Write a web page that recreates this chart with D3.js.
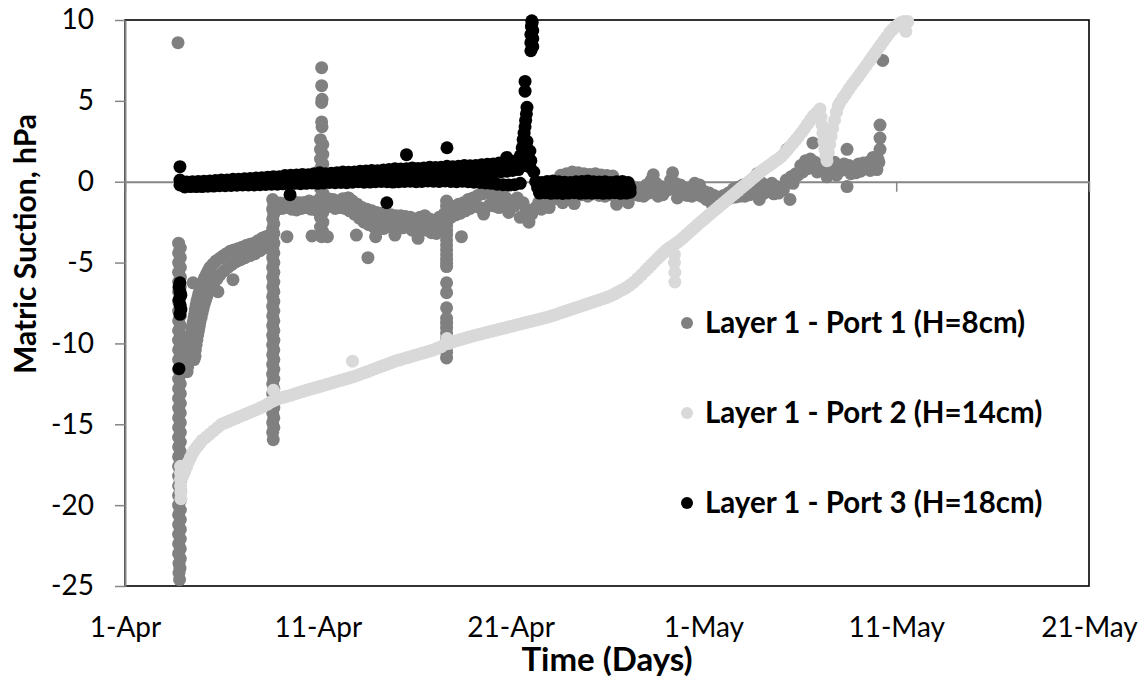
<!DOCTYPE html>
<html>
<head>
<meta charset="utf-8">
<script src="https://cdn.jsdelivr.net/npm/d3@7"></script>
<style>
  html, body { margin: 0; padding: 0; background: #fff; }
  svg { display: block; font-family: "Lato", sans-serif; }
</style>
</head>
<body>
<svg id="chart" width="1146" height="680"></svg>
<script>
// Time axis: days after 1-Apr
const xTickValues = [0, 10, 20, 30, 40, 50];
const xTickLabels = ["1-Apr", "11-Apr", "21-Apr", "1-May", "11-May", "21-May"];
const yTickValues = [10, 5, 0, -5, -10, -15, -20, -25];
const yTickLabels = ["10", "5", "0", "-5", "-10", "-15", "-20", "-25"];

const seriesNames = ["Layer 1 - Port 1 (H=8cm)", "Layer 1 - Port 2 (H=14cm)", "Layer 1 - Port 3 (H=18cm)"];
const seriesColors = ["#808080", "#d9d9d9", "#000000"];

// Logged readings as [day, matric suction hPa]
const port1 = [
  [2.75,8.6],
  [2.78,-3.8],[2.87,-4.1],[2.78,-4.4],[2.87,-4.7],[2.78,-5.0],[2.87,-5.3],[2.78,-5.6],[2.87,-5.9],[2.78,-6.2],[2.87,-6.5],
  [2.78,-6.8],[2.87,-7.1],[2.78,-7.4],[2.87,-7.7],[2.78,-8.0],[2.87,-8.3],[2.78,-8.6],[2.87,-8.9],[2.78,-9.2],[2.87,-9.5],
  [2.78,-9.8],[2.87,-10.1],[2.78,-10.4],[2.87,-10.7],[2.78,-11.0],[2.87,-11.3],[2.78,-11.6],[2.87,-11.9],[2.78,-12.2],[2.87,-12.5],
  [2.78,-12.8],[2.87,-13.1],[2.78,-13.4],[2.87,-13.7],[2.78,-14.0],[2.87,-14.3],[2.78,-14.6],[2.87,-14.9],[2.78,-15.2],[2.87,-15.5],
  [2.78,-15.8],[2.87,-16.1],[2.78,-16.4],[2.87,-16.7],[2.78,-17.0],[2.87,-17.3],[2.78,-17.6],[2.87,-17.9],[2.78,-18.2],[2.87,-18.5],
  [2.78,-18.8],[2.87,-19.1],[2.78,-19.4],[2.87,-19.7],[2.78,-20.0],[2.87,-20.3],[2.78,-20.6],[2.87,-20.9],[2.78,-21.2],[2.87,-21.5],
  [2.78,-21.8],[2.87,-22.1],[2.78,-22.4],[2.87,-22.7],[2.78,-23.0],[2.87,-23.3],[2.8,-23.6],[2.85,-23.9],[2.8,-24.2],[2.83,-24.6],
  [3.22,-11.75],[3.25,-11.45],[3.27,-11.1],[3.3,-10.8],[3.32,-10.5],[3.35,-10.25],[3.37,-10.0],[3.4,-9.75],[3.42,-9.5],[3.46,-9.22],
  [3.5,-8.95],[3.54,-8.68],[3.58,-8.4],[3.62,-8.15],[3.65,-7.9],[3.69,-7.65],[3.73,-7.4],[3.78,-7.17],[3.83,-6.95],[3.88,-6.75],
  [3.94,-6.55],[4.0,-6.35],[4.07,-6.13],[4.15,-5.9],[4.23,-5.7],[4.32,-5.5],[4.41,-5.3],[4.56,-5.1],[4.72,-4.9],[4.9,-4.75],
  [5.08,-4.6],[5.26,-4.45],[5.45,-4.3],[5.65,-4.22],[5.86,-4.15],[6.07,-4.05],[6.28,-3.95],[6.48,-3.87],[6.69,-3.8],[6.9,-3.65],
  [7.11,-3.5],[7.27,-3.42],[7.42,-3.35],[7.58,-3.3],
  [3.58,-11.0],[3.61,-10.7],[3.65,-10.4],[3.69,-10.08],[3.73,-9.77],[3.77,-9.48],[3.81,-9.2],[3.85,-8.93],[3.89,-8.66],[3.95,-8.38],
  [4.0,-8.1],[4.05,-7.85],[4.1,-7.6],[4.15,-7.4],[4.2,-7.2],[4.25,-7.03],[4.3,-6.86],[4.46,-6.55],[4.62,-6.25],[4.78,-6.0],
  [4.93,-5.75],[5.13,-5.52],[5.34,-5.3],[5.55,-5.12],[5.76,-4.95],[5.99,-4.82],[6.22,-4.7],[6.48,-4.57],[6.74,-4.45],[7.0,-4.27],
  [7.26,-4.1],[7.45,-3.95],
  [3.53,-6.25],[3.63,-10.8],[4.82,-6.8],[5.6,-6.06],
  [7.66,-1.1],[7.72,-1.4],[7.66,-1.7],[7.72,-2.0],[7.66,-2.3],[7.72,-2.6],[7.66,-2.9],[7.72,-3.2],[7.66,-3.5],[7.72,-3.8],
  [7.66,-4.1],[7.72,-4.4],[7.66,-4.7],[7.72,-5.0],[7.66,-5.3],[7.72,-5.6],[7.66,-5.9],[7.72,-6.2],[7.66,-6.5],[7.72,-6.8],
  [7.66,-7.1],[7.72,-7.4],[7.66,-7.7],[7.72,-8.0],[7.66,-8.3],[7.72,-8.6],[7.66,-8.9],[7.72,-9.2],[7.66,-9.5],[7.72,-9.8],
  [7.66,-10.1],[7.72,-10.4],[7.66,-10.7],[7.72,-11.0],[7.66,-11.3],[7.72,-11.6],[7.66,-11.9],[7.72,-12.2],[7.66,-12.5],[7.72,-12.8],
  [7.66,-13.1],[7.72,-13.4],[7.66,-13.7],[7.72,-14.0],[7.66,-14.3],[7.72,-14.6],[7.66,-14.9],[7.72,-15.2],[7.66,-15.5],[7.69,-15.95],
  [7.8,-1.3],[8.05,-1.32],[8.3,-1.35],[8.55,-1.3],[8.8,-1.25],[9.05,-1.3],[9.3,-1.28],[9.55,-1.2],[9.8,-1.25],[10.05,-1.3],
  [10.3,-1.1],[10.55,-1.05],[10.8,-1.1],[11.05,-1.2],[11.3,-1.05],[11.55,-1.0],[11.8,-1.2],[12.05,-1.4],[12.3,-1.6],[12.55,-1.7],
  [12.8,-1.8],[13.05,-1.9],[13.3,-1.95],[13.55,-2.0],[13.8,-2.05],[14.05,-2.1],[14.3,-2.1],[14.55,-2.15],[14.8,-2.2],[15.05,-2.3],
  [15.3,-2.2],[15.55,-2.1],[15.8,-2.3],[16.05,-2.4],[16.3,-2.2],[16.55,-2.0],[16.8,-1.8],[17.05,-1.55],[17.3,-1.4],[17.55,-1.3],
  [17.8,-1.1],[18.05,-1.0],[18.3,-0.85],[18.55,-0.75],[18.8,-0.7],[19.05,-0.85],[19.3,-0.75],[19.55,-0.6],
  [7.9,-1.7],[8.15,-1.65],[8.4,-1.6],[8.65,-1.7],[8.9,-1.75],[9.15,-1.65],[9.4,-1.6],[9.65,-1.7],[9.9,-1.75],[10.15,-1.8],
  [10.4,-1.6],[10.65,-1.5],[10.9,-1.65],[11.15,-1.6],[11.4,-1.65],[11.65,-1.8],[11.9,-2.0],[12.15,-2.25],[12.4,-2.5],[12.65,-2.65],
  [12.9,-2.8],[13.15,-2.85],[13.4,-2.9],[13.65,-2.75],[13.9,-2.85],[14.15,-2.9],[14.4,-2.85],[14.65,-2.8],[14.9,-3.0],[15.15,-2.85],
  [15.4,-2.7],[15.65,-3.0],[15.9,-3.15],[16.15,-3.2],[16.4,-2.9],[16.65,-2.5],[16.9,-2.2],[17.15,-2.05],[17.4,-1.95],[17.65,-1.8],
  [17.9,-1.65],[18.15,-1.5],[18.4,-1.6],[18.65,-1.7],[18.9,-1.45],[19.15,-1.5],[19.4,-1.6],
  [12.2,-1.85],[12.5,-2.1],[12.8,-2.3],[13.1,-2.4],[13.4,-2.45],[13.7,-2.4],[14.0,-2.5],[14.3,-2.5],[14.6,-2.45],[14.9,-2.6],
  [15.2,-2.55],[15.5,-2.4],[15.8,-2.65],[16.1,-2.8],[16.4,-2.55],
  [8.4,-3.4],[9.7,-3.35],[10.5,-3.4],[12.6,-4.7],[17.45,-3.4],[18.6,-2.0],[11.6,-1.0],[12.0,-3.3],[13.0,-3.4],[14.0,-3.3],[15.2,-3.5],
  [10.2,7.05],[10.2,5.94],[10.22,5.1],[10.2,4.9],[10.2,3.7],[10.22,3.4],
  [10.14,2.6],[10.26,2.3],[10.14,2.0],[10.26,1.7],[10.14,1.4],[10.26,1.1],[10.14,0.8],[10.26,0.5],[10.14,0.2],[10.26,-0.1],
  [10.14,-0.4],[10.26,-0.7],[10.14,-1.0],[10.26,-1.3],[10.14,-1.6],[10.26,-1.9],[10.14,-2.2],[10.26,-2.5],[10.14,-2.8],[10.26,-3.1],[10.2,-3.4],
  [16.68,-1.2],[16.68,-1.5],[16.68,-1.8],[16.68,-2.1],[16.68,-2.4],[16.68,-2.7],[16.68,-3.0],[16.68,-3.3],[16.68,-3.6],[16.68,-3.9],
  [16.68,-4.2],[16.68,-4.5],[16.68,-4.8],[16.68,-5.05],[16.68,-5.25],
  [16.68,-6.25],[16.68,-6.86],[16.68,-7.8],
  [16.68,-8.45],[16.68,-8.75],[16.68,-9.05],[16.68,-9.35],[16.68,-9.65],[16.68,-9.95],[16.68,-10.25],[16.68,-10.55],[16.68,-10.9],
  [19.6,-1.3],[19.75,-1.0],[19.9,-1.9],[20.05,-1.2],[20.2,-1.5],[20.35,-1.0],[20.5,-2.2],[20.65,-1.3],[20.8,-1.7],[20.95,-2.5],
  [21.1,-2.0],[21.3,-1.6],[21.45,-1.3],[21.6,-1.7],[21.9,-1.2],[22.0,-1.6],[22.2,-1.1],[22.5,-1.0],[22.7,-1.3],[22.8,-0.9],
  [23.1,-1.0],[23.3,-1.35],[23.4,-0.85],[23.7,-0.8],[24.0,-0.9],[24.3,-0.75],[24.6,-0.85],[24.9,-0.9],[25.2,-0.8],[25.5,-1.4],
  [25.8,-0.95],[26.1,-1.3],
  [22.6,0.4],[22.9,0.5],[23.2,0.6],[23.5,0.55],[23.8,0.5],[24.1,0.45],[24.4,0.5],[24.7,0.42],[25.0,0.38],[25.3,0.35],
  [26.3,-0.3],[26.55,-0.4],[26.8,-0.45],[27.05,-0.2],[27.3,0.1],[27.4,0.43],[27.55,-0.1],[27.8,-0.3],[28.05,-0.5],[28.3,0.1],
  [28.4,0.55],[28.55,-0.1],[28.8,-0.2],[29.05,-0.4],[29.3,-0.5],[29.55,-0.1],[29.8,-0.2],[30.05,-0.6],[30.3,-0.7],[30.55,-0.85],
  [30.8,-1.0],[31.05,-0.85],[31.3,-0.7],[31.55,-0.45],[31.8,-0.35],[32.05,-0.2],[32.3,-0.35],[32.55,-0.3],[32.8,0.5],[33.05,-0.1],
  [33.3,-0.3],[33.55,-0.1],[33.8,-0.3],[34.05,-0.35],[34.3,0.1],[34.55,0.3],[34.8,0.5],[35.05,1.0],[35.3,1.3],[35.55,1.4],
  [35.68,2.4],[35.8,1.2],[36.05,1.0],[36.3,0.6],[36.55,1.0],[36.8,1.2],[37.05,1.0],[37.3,1.1],[37.45,2.0],[37.55,1.0],
  [37.8,0.9],[38.05,1.1],[38.3,1.15],[38.55,1.2],[38.8,1.5],[39.05,1.4],
  [26.4,-0.8],[26.65,-0.85],[26.9,-0.9],[27.15,-0.7],[27.4,-0.6],[27.65,-0.9],[27.9,-0.8],[28.15,-0.5],[28.4,-0.4],[28.65,-1.0],
  [28.9,-0.8],[29.15,-0.85],[29.4,-0.9],[29.65,-0.8],[29.9,-0.9],[30.15,-1.1],[30.4,-1.3],[30.5,-1.5],[30.65,-1.35],[30.9,-1.2],
  [31.15,-1.1],[31.4,-1.0],[31.65,-0.95],[31.9,-0.9],[32.15,-0.9],[32.4,-0.8],[32.65,-0.6],[32.9,-1.1],[33.15,-0.7],[33.4,-0.6],
  [33.65,-0.75],[33.9,-0.7],[34.15,-0.5],[34.34,2.0],[34.49,-1.1],[34.65,-0.1],[34.9,0.4],[35.15,0.6],[35.4,0.8],[35.65,1.0],
  [35.9,0.6],[36.15,0.75],[36.41,0.3],[36.65,0.6],[36.9,0.4],[37.15,0.7],[37.45,-0.3],[37.65,0.5],[37.9,0.55],[38.15,0.65],
  [38.4,0.8],[38.65,0.7],[38.9,0.9],[39.0,0.75],[39.1,1.2],[39.16,2.0],[39.16,2.7],[39.16,3.5],[39.3,7.5]
];

const port2 = [
  [2.88,-17.6],[2.88,-18.0],[2.88,-18.4],[2.88,-18.8],[2.9,-19.2],[2.9,-19.6],
  [3.0,-18.2],[3.1,-17.9],[3.2,-17.6],[3.3,-17.3],[3.4,-17.05],[3.5,-16.8],[3.6,-16.6],[3.7,-16.45],[3.8,-16.3],[3.9,-16.15],
  [4.0,-16.0],[4.2,-15.8],[4.4,-15.6],[4.6,-15.4],[4.8,-15.2],[5.0,-15.0],[5.2,-14.9],[5.4,-14.8],[5.6,-14.7],[5.8,-14.6],
  [6.0,-14.5],[6.2,-14.4],[6.4,-14.3],[6.6,-14.2],[6.8,-14.1],[7.0,-14.0],[7.2,-13.88],[7.4,-13.75],[7.6,-13.6],[7.7,-12.9],
  [7.8,-13.5],[8.0,-13.4],[8.2,-13.33],[8.4,-13.26],[8.6,-13.2],[8.8,-13.12],[9.0,-13.05],[9.2,-12.98],[9.4,-12.9],[9.6,-12.83],
  [9.8,-12.76],[10.0,-12.7],[10.2,-12.63],[10.4,-12.56],[10.6,-12.49],[10.8,-12.42],[11.0,-12.35],[11.2,-12.28],[11.4,-12.21],[11.6,-12.14],
  [11.8,-12.07],[11.8,-11.1],[12.0,-12.0],[12.2,-11.9],[12.4,-11.82],[12.6,-11.73],[12.8,-11.64],[13.0,-11.55],[13.2,-11.46],[13.4,-11.37],
  [13.6,-11.28],[13.8,-11.19],[14.0,-11.1],[14.2,-11.03],[14.4,-10.96],[14.6,-10.89],[14.8,-10.82],[15.0,-10.75],[15.2,-10.68],[15.4,-10.61],
  [15.6,-10.54],[15.8,-10.47],[16.0,-10.4],[16.2,-10.3],[16.4,-10.2],[16.6,-10.05],[16.7,-9.7],[16.8,-10.0],[17.0,-9.9],[17.2,-9.83],
  [17.4,-9.76],[17.6,-9.69],[17.8,-9.62],[18.0,-9.55],[18.2,-9.49],[18.4,-9.43],[18.6,-9.37],[18.8,-9.31],[19.0,-9.25],[19.2,-9.19],
  [19.4,-9.13],[19.6,-9.07],[19.8,-9.01],[20.0,-8.95],[20.2,-8.89],[20.4,-8.83],[20.6,-8.77],[20.8,-8.71],[21.0,-8.65],[21.2,-8.59],
  [21.4,-8.53],[21.6,-8.47],[21.8,-8.41],[22.0,-8.35],[22.2,-8.27],[22.4,-8.19],[22.6,-8.11],[22.8,-8.03],[23.0,-7.95],[23.2,-7.87],
  [23.4,-7.79],[23.6,-7.71],[23.8,-7.63],[24.0,-7.55],[24.2,-7.47],[24.4,-7.39],[24.6,-7.31],[24.8,-7.23],[25.0,-7.15],[25.2,-7.05],
  [25.4,-6.93],[25.6,-6.8],[25.8,-6.68],[26.0,-6.55],[26.2,-6.38],[26.4,-6.2],[26.6,-5.98],[26.8,-5.75],[27.0,-5.5],[27.15,-5.32],
  [27.3,-5.14],[27.45,-4.96],[27.6,-4.78],[27.75,-4.6],[27.9,-4.43],[28.05,-4.25],[28.2,-4.12],[28.35,-4.0],[28.5,-3.88],
  [28.5,-4.5],[28.5,-5.0],[28.52,-5.6],[28.52,-6.2],
  [28.65,-3.75],[28.8,-3.62],[28.95,-3.46],[29.1,-3.3],[29.25,-3.14],[29.4,-2.98],[29.55,-2.82],[29.7,-2.66],[29.85,-2.5],[30.0,-2.35],
  [30.15,-2.2],[30.3,-2.05],[30.45,-1.9],[30.6,-1.75],[30.75,-1.6],[30.9,-1.45],[31.05,-1.3],[31.2,-1.15],[31.35,-1.0],[31.5,-0.85],
  [31.65,-0.7],[31.8,-0.55],[31.95,-0.4],[32.1,-0.25],[32.25,-0.1],[32.4,0.05],[32.55,0.2],[32.7,0.35],[32.85,0.5],[33.0,0.65],
  [33.15,0.78],[33.3,0.91],[33.45,1.04],[33.6,1.17],[33.75,1.3],[33.9,1.42],[34.05,1.56],[34.2,1.76],[34.35,1.97],[34.5,2.18],
  [34.65,2.39],[34.8,2.6],[34.95,2.82],[35.1,3.06],[35.25,3.3],[35.4,3.56],[35.55,3.82],[35.7,4.06],[35.85,4.25],[36.0,4.42],
  [36.05,4.5],[36.1,4.0],[36.15,3.5],[36.2,3.0],[36.25,2.5],[36.3,2.0],[36.36,1.6],[36.41,1.3],[36.48,1.8],[36.55,2.3],
  [36.62,2.8],[36.7,3.3],[36.8,3.8],[36.9,4.3],[37.0,4.7],[37.1,4.93],[37.25,5.2],[37.4,5.45],[37.55,5.72],[37.7,5.98],
  [37.85,6.22],[38.0,6.45],[38.15,6.7],[38.3,6.95],[38.45,7.2],[38.6,7.45],[38.75,7.7],[38.9,7.95],[39.05,8.2],[39.2,8.45],
  [39.35,8.7],[39.5,8.95],[39.65,9.2],[39.8,9.4],[39.95,9.58],[40.1,9.72],[40.25,9.85],[40.4,9.9],[40.5,9.3],[40.6,9.9]
];

const port3 = [
  [2.85,0.93],[2.85,0.1],[2.85,-0.2],
  [2.85,-6.25],[2.8,-6.5],[2.85,-6.8],[2.9,-7.0],[2.8,-7.3],[2.85,-7.6],[2.9,-7.9],[2.85,-8.2],[2.8,-11.56],
  [2.9,-0.05],[3.2,-0.02],[3.5,0.0],[3.8,0.02],[4.1,0.03],[4.4,0.05],[4.7,0.08],[5.0,0.1],[5.3,0.1],[5.6,0.15],
  [5.9,0.16],[6.2,0.18],[6.5,0.2],[6.8,0.23],[7.1,0.25],[7.4,0.28],[7.7,0.3],[8.0,0.3],[8.3,0.38],[8.6,0.4],
  [8.9,0.42],[9.2,0.45],[9.5,0.43],[9.8,0.5],[10.1,0.55],[10.4,0.5],[10.7,0.52],[11.0,0.55],[11.3,0.6],[11.6,0.58],
  [11.9,0.6],[12.2,0.65],[12.5,0.66],[12.8,0.7],[13.1,0.68],[13.4,0.72],[13.7,0.75],[14.0,0.8],[14.3,0.78],[14.6,0.8],
  [14.9,0.85],[15.2,0.82],[15.5,0.85],[15.8,0.9],[16.1,0.88],[16.4,0.9],[16.7,0.95],[17.0,0.92],[17.3,0.95],[17.6,1.0],
  [17.9,0.98],[18.2,1.0],[18.5,1.05],[18.8,1.08],[19.1,1.1],[19.4,1.15],[19.7,1.2],[20.0,1.25],[20.3,1.3],
  [3.0,-0.2],[3.3,-0.18],[3.6,-0.15],[3.9,-0.14],[4.2,-0.12],[4.5,-0.1],[4.8,-0.08],[5.1,-0.06],[5.4,-0.05],[5.7,-0.03],
  [6.0,0.0],[6.3,0.0],[6.6,0.02],[6.9,0.05],[7.2,0.06],[7.5,0.08],[7.8,0.1],[8.1,0.1],[8.4,0.12],[8.7,0.15],
  [9.0,0.16],[9.3,0.18],[9.6,0.2],[9.9,0.22],[10.2,0.25],[10.5,0.24],[10.8,0.26],[11.1,0.28],[11.4,0.3],[11.7,0.3],
  [12.0,0.32],[12.3,0.33],[12.6,0.35],[12.9,0.36],[13.2,0.36],[13.5,0.38],[13.8,0.4],[14.1,0.4],[14.4,0.42],[14.7,0.42],
  [15.0,0.44],[15.3,0.45],[15.6,0.46],[15.9,0.48],[16.2,0.48],[16.5,0.5],[16.8,0.5],[17.1,0.5],[17.4,0.52],[17.7,0.54],
  [18.0,0.55],[18.3,0.56],[18.6,0.58],[18.9,0.6],[19.2,0.6],[19.5,0.62],[19.8,0.65],[20.1,0.7],[20.4,0.75],
  [3.1,-0.32],[3.4,-0.3],[3.7,-0.3],[4.0,-0.3],[4.3,-0.28],[4.6,-0.27],[4.9,-0.25],[5.2,-0.25],[5.5,-0.23],[5.8,-0.22],
  [6.1,-0.2],[6.4,-0.2],[6.7,-0.2],[7.0,-0.18],[7.3,-0.17],[7.6,-0.15],[7.9,-0.15],[8.2,-0.13],[8.5,-0.12],[8.8,-0.1],
  [9.1,-0.12],[9.4,-0.1],[9.7,-0.08],[10.0,-0.1],[10.3,-0.08],[10.6,-0.05],[10.9,-0.06],[11.2,-0.05],[11.5,-0.06],[11.8,-0.03],
  [12.1,0.0],[12.4,-0.03],[12.7,-0.02],[13.0,0.0],[13.3,0.02],[13.6,0.0],[13.9,-0.02],[14.2,0.0],[14.5,0.02],[14.8,0.03],
  [15.1,0.0],[15.4,0.02],[15.7,0.05],[16.0,0.03],[16.3,0.02],[16.6,0.05],[16.9,0.02],[17.2,0.0],[17.5,0.03],[17.8,0.0],
  [18.1,-0.03],[18.4,-0.05],[18.7,-0.08],[19.0,-0.1],[19.3,-0.15],[19.6,-0.18],[19.9,-0.2],[20.2,-0.18],[20.5,-0.1],
  [8.56,-0.8],[13.58,-1.3],[14.6,1.67],[16.7,2.1],[19.8,1.5],
  [20.4,1.0],[20.6,1.2],[20.8,1.0],[21.0,0.9],[21.2,0.6],[20.5,1.6],[20.7,1.7],[20.9,1.5],[21.05,1.3],[20.6,2.1],
  [20.8,2.2],[21.0,1.9],[20.65,2.6],[20.85,2.5],[20.7,3.0],[20.75,3.4],[20.78,3.8],[20.82,4.2],[20.85,4.6],
  [20.75,5.6],[20.75,6.2],
  [21.05,8.1],[21.15,8.35],[21.05,8.6],[21.15,8.85],[21.05,9.1],[21.15,9.35],[21.08,9.6],[21.12,9.85],[21.1,9.95],
  [21.3,0.0],[21.6,-0.05],[21.9,0.02],[22.2,0.05],[22.5,0.0],[22.8,-0.03],[23.1,-0.05],[23.4,0.0],[23.7,0.02],[24.0,0.05],
  [24.3,0.0],[24.6,-0.02],[24.9,0.0],[25.2,-0.05],[25.5,0.0],[25.8,0.02],[26.1,-0.05],
  [21.4,-0.37],[21.7,-0.35],[22.0,-0.4],[22.3,-0.36],[22.6,-0.38],[22.9,-0.35],[23.2,-0.37],[23.5,-0.4],[23.8,-0.36],[24.1,-0.35],
  [24.4,-0.38],[24.7,-0.37],[25.0,-0.35],[25.3,-0.4],[25.6,-0.37],[25.9,-0.35],[26.2,-0.38],
  [21.5,-0.7],[21.8,-0.68],[22.1,-0.72],[22.4,-0.7],[22.7,-0.73],[23.0,-0.7],[23.3,-0.68],[23.6,-0.72],[23.9,-0.7],[24.2,-0.71],
  [24.5,-0.69],[24.8,-0.72],[25.1,-0.7],[25.4,-0.68],[25.7,-0.72],[26.0,-0.7],[26.2,-0.65]
];

const allSeries = [port1, port2, port3];

const svg = d3.select("#chart");
const W = 1146, H = 680;
const plot = { left: 125, right: 1089, top: 20, bottom: 586 };

const x = d3.scaleLinear().domain([0, 50]).range([plot.left, plot.right]);
const y = d3.scaleLinear().domain([-25, 10]).range([plot.bottom, plot.top]);

svg.append("rect").attr("width", W).attr("height", H).attr("fill", "#fff");

// plot area frame
svg.append("rect")
  .attr("x", plot.left).attr("y", plot.top)
  .attr("width", plot.right - plot.left).attr("height", plot.bottom - plot.top)
  .attr("fill", "none").attr("stroke", "#000").attr("stroke-width", 1.6);

const axisGrey = "#868686";

// value axis
const yAxis = svg.append("g")
  .attr("transform", `translate(${plot.left},0)`)
  .call(d3.axisLeft(y).tickValues(yTickValues).tickSize(10).tickSizeOuter(0).tickPadding(21)
    .tickFormat((d, i) => yTickLabels[i]));
yAxis.select(".domain").attr("stroke", axisGrey).attr("stroke-width", 2);
yAxis.selectAll(".tick line").attr("stroke", axisGrey).attr("stroke-width", 1.5);
yAxis.selectAll(".tick text").attr("font-size", 28).attr("fill", "#000")
  .attr("font-family", "Lato, sans-serif");

// time axis crossing at zero
const xAxis = svg.append("g")
  .attr("transform", `translate(0,${y(0)})`)
  .call(d3.axisBottom(x).tickValues(xTickValues).tickSize(10).tickSizeOuter(0).tickFormat(""));
xAxis.select(".domain").attr("stroke", axisGrey).attr("stroke-width", 2);
xAxis.selectAll(".tick line").attr("stroke", axisGrey).attr("stroke-width", 1.5);

// time labels sit below the plot area
const xLabels = svg.append("g")
  .attr("transform", `translate(0,${plot.bottom})`)
  .call(d3.axisBottom(x).tickValues(xTickValues).tickSize(0).tickPadding(0)
    .tickFormat((d, i) => xTickLabels[i]));
xLabels.select(".domain").remove();
xLabels.selectAll(".tick text").attr("y", 51).attr("dy", 0)
  .attr("font-size", 28).attr("fill", "#000").attr("font-family", "Lato, sans-serif");

// series markers
allSeries.forEach((series, i) => {
  svg.append("g").attr("class", "series-" + (i + 1))
    .selectAll("circle")
    .data(series)
    .join("circle")
    .attr("cx", d => x(d[0]))
    .attr("cy", d => y(d[1]))
    .attr("r", 6.5)
    .attr("fill", seriesColors[i]);
});

// axis titles
svg.append("text")
  .attr("transform", `translate(36,244) rotate(-90)`)
  .attr("text-anchor", "middle")
  .attr("font-size", 30).attr("font-weight", 700)
  .text("Matric Suction, hPa");

svg.append("text")
  .attr("x", (plot.left + plot.right) / 2).attr("y", 671)
  .attr("text-anchor", "middle")
  .attr("font-size", 33).attr("font-weight", 700)
  .text("Time (Days)");

// legend
const legend = svg.append("g").attr("transform", "translate(687,323)");
seriesNames.forEach((name, i) => {
  const row = legend.append("g").attr("transform", `translate(0,${i * 90})`);
  row.append("circle").attr("r", 6).attr("fill", seriesColors[i]);
  row.append("text").attr("x", 18).attr("y", 10)
    .attr("font-size", 29.5).attr("font-weight", 700).attr("fill", "#000")
    .text(name);
});
</script>
</body>
</html>
